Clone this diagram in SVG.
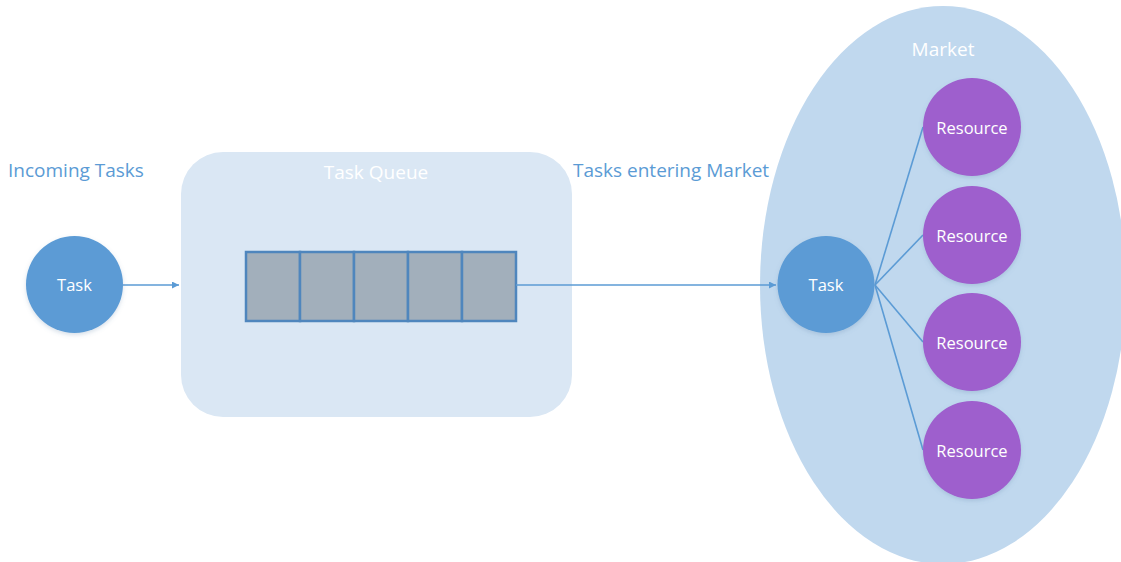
<svg xmlns="http://www.w3.org/2000/svg" width="1121" height="562" viewBox="0 0 1121 562">
  <style>
    .label { font-family: "Open Sans", "Noto Sans", sans-serif; font-size: 19px; fill: #5b9bd5; }
    .title { font-family: "Open Sans", "Noto Sans", sans-serif; font-size: 19px; fill: #ffffff; text-anchor: middle; }
    .node-text { font-family: "Open Sans", "Noto Sans", sans-serif; font-size: 16.5px; fill: #ffffff; text-anchor: middle; dominant-baseline: central; }
    .task { fill: #5b9bd5; filter: url(#soft); }
    .resource { fill: #9e5ecd; filter: url(#soft); }
    .link { stroke: #5b9bd5; stroke-width: 1.6; fill: none; }
    .cell { fill: #a2afbb; stroke: #4f86bd; stroke-width: 2.5; }
  </style>
  <defs>
    <filter id="soft" x="-20%" y="-20%" width="140%" height="150%">
      <feDropShadow dx="0" dy="2" stdDeviation="2" flood-color="#5a7fa8" flood-opacity="0.25"/>
    </filter>
    <marker id="arrow" viewBox="0 0 10 10" refX="10" refY="5" markerWidth="7" markerHeight="7" markerUnits="userSpaceOnUse" orient="auto">
      <path d="M0,0 L10,5 L0,10 z" fill="#5b9bd5"/>
    </marker>
  </defs>

  <rect width="1121" height="562" fill="#ffffff"/>

  <!-- containers -->
  <g id="task-queue">
    <rect x="181" y="152" width="391" height="265" rx="42" ry="42" fill="#dae7f4"/>
    <text class="title" x="376" y="179">Task Queue</text>
  </g>
  <g id="market">
    <ellipse cx="943" cy="285" rx="183" ry="279" fill="#c0d8ee"/>
    <text class="title" x="943" y="56">Market</text>
  </g>

  <!-- free labels -->
  <text class="label" x="8" y="177">Incoming Tasks</text>
  <text class="label" x="573" y="177">Tasks entering Market</text>

  <!-- queue slots -->
  <g id="queue">
    <rect class="cell" x="246" y="252" width="54" height="69"/>
    <rect class="cell" x="300" y="252" width="54" height="69"/>
    <rect class="cell" x="354" y="252" width="54" height="69"/>
    <rect class="cell" x="408" y="252" width="54" height="69"/>
    <rect class="cell" x="462" y="252" width="54" height="69"/>
  </g>

  <!-- connectors -->
  <g id="connectors">
    <line class="link" x1="123" y1="285" x2="179" y2="285" marker-end="url(#arrow)"/>
    <line class="link" x1="516" y1="285" x2="776" y2="285" marker-end="url(#arrow)"/>
    <line class="link" x1="875" y1="285" x2="923" y2="127"/>
    <line class="link" x1="875" y1="285" x2="923" y2="235"/>
    <line class="link" x1="875" y1="285" x2="923" y2="342"/>
    <line class="link" x1="875" y1="285" x2="923" y2="450"/>
  </g>

  <!-- nodes -->
  <g id="incoming-task">
    <circle class="task" cx="74.5" cy="284.5" r="48.5"/>
    <text class="node-text" x="74.5" y="284">Task</text>
  </g>
  <g id="market-task">
    <circle class="task" cx="826" cy="284.5" r="48.5"/>
    <text class="node-text" x="826" y="284">Task</text>
  </g>
  <g id="resource-1">
    <circle class="resource" cx="972" cy="127" r="49"/>
    <text class="node-text" x="972" y="127">Resource</text>
  </g>
  <g id="resource-2">
    <circle class="resource" cx="972" cy="235" r="49"/>
    <text class="node-text" x="972" y="235">Resource</text>
  </g>
  <g id="resource-3">
    <circle class="resource" cx="972" cy="342" r="49"/>
    <text class="node-text" x="972" y="342">Resource</text>
  </g>
  <g id="resource-4">
    <circle class="resource" cx="972" cy="450" r="49"/>
    <text class="node-text" x="972" y="450">Resource</text>
  </g>
</svg>
